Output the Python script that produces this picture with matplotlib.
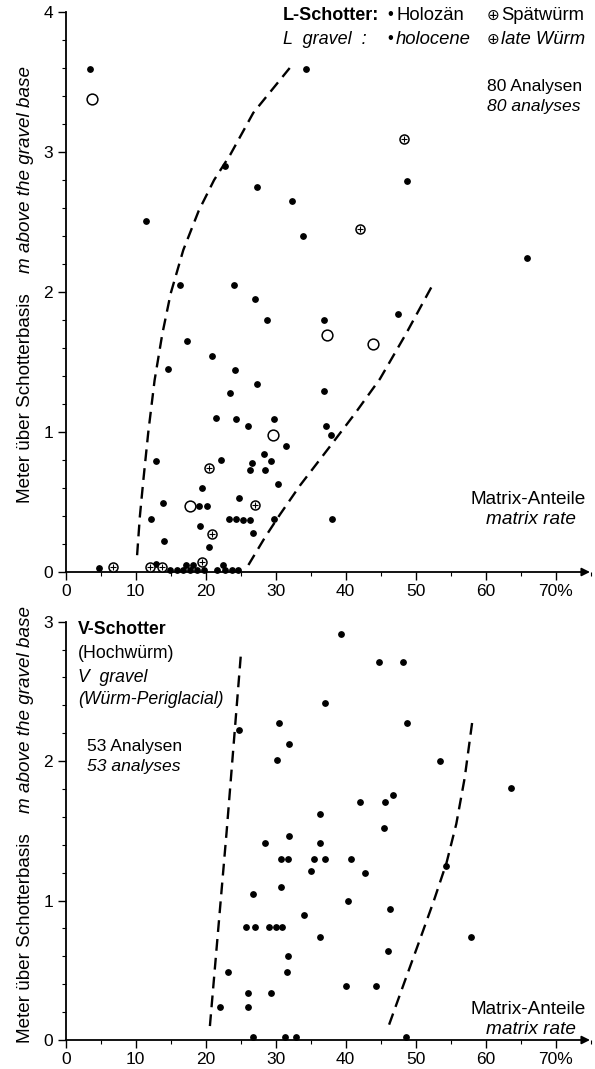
import numpy as np
import matplotlib.pyplot as plt
from matplotlib.ticker import MultipleLocator

plt.rcParams['font.family'] = ['Liberation Sans', 'DejaVu Sans']
plt.rcParams['font.size'] = 12

W, H = 595, 1069

# --- L-Schotter (top panel) ---
# Holozän (filled dots)
holo_x = [3.4, 11.4, 22.8, 27.4, 32.4, 16.3, 24.1, 27.1, 34.3, 48.7, 33.9, 65.9,
          28.7, 17.3, 20.9, 14.6, 24.2, 27.4, 23.5, 21.4, 24.4, 29.8, 26.0, 31.5,
          28.3, 12.9, 22.2, 26.6, 29.3, 26.4, 28.5, 19.4, 30.4, 13.9, 19.1, 20.2,
          24.7, 12.2, 23.3, 24.3, 25.3, 26.3, 29.8, 19.2, 26.7, 14.1, 20.4, 4.8,
          12.9, 17.2, 18.2, 22.5, 14.9, 15.9, 16.7, 17.8, 18.7, 19.8, 21.6, 22.7,
          23.7, 24.6, 36.9, 47.5, 36.9, 37.2, 37.9, 38.0]
holo_y = [3.59, 2.51, 2.90, 2.75, 2.65, 2.05, 2.05, 1.95, 3.59, 2.79, 2.40, 2.24,
          1.80, 1.65, 1.54, 1.45, 1.44, 1.34, 1.28, 1.10, 1.09, 1.09, 1.04, 0.90,
          0.84, 0.79, 0.80, 0.78, 0.79, 0.73, 0.73, 0.60, 0.63, 0.49, 0.47, 0.47,
          0.53, 0.38, 0.38, 0.38, 0.37, 0.37, 0.38, 0.33, 0.28, 0.22, 0.18, 0.03,
          0.06, 0.05, 0.05, 0.05, 0.015, 0.015, 0.015, 0.015, 0.015, 0.015, 0.015, 0.015,
          0.015, 0.015, 1.80, 1.84, 1.29, 1.04, 0.98, 0.38]
# plain open circles
open_x = [3.8, 29.6, 17.7, 37.4, 43.9]
open_y = [3.38, 0.98, 0.47, 1.69, 1.63]
# Spätwürm (circle with cross)
late_x = [48.3, 42.0, 27.1, 20.9, 20.5, 19.5, 6.7, 12.0, 13.8]
late_y = [3.09, 2.45, 0.48, 0.27, 0.74, 0.07, 0.035, 0.035, 0.035]

# envelope lines
l_left_x = [10.2, 10.6, 11.1, 11.8, 12.7, 13.8, 15.0, 16.8, 19.0, 21.2, 23.5, 26.8, 32.0]
l_left_y = [0.12, 0.40, 0.66, 1.00, 1.37, 1.70, 1.99, 2.30, 2.58, 2.80, 2.98, 3.28, 3.60]
l_right_x = [26.1, 28.5, 30.6, 33.5, 37.8, 41.3, 44.9, 48.6, 52.3]
l_right_y = [0.05, 0.25, 0.41, 0.62, 0.90, 1.13, 1.38, 1.70, 2.04]

# --- V-Schotter (bottom panel) ---
v_x = [24.7, 30.5, 31.9, 30.2, 28.5, 31.9, 39.3, 44.7, 48.2, 37.0, 48.8, 53.5,
       63.6, 42.0, 45.6, 46.8, 36.3, 36.4, 45.5, 30.7, 31.7, 30.7, 26.8, 25.7,
       27.0, 29.1, 30.0, 30.9, 31.7, 31.6, 23.2, 26.1, 29.4, 22.0, 26.1, 26.8,
       31.3, 32.9, 35.5, 37.1, 40.8, 35.0, 42.8, 40.4, 46.4, 54.4, 34.1, 36.4,
       57.9, 46.1, 40.0, 44.3, 48.6]
v_y = [2.22, 2.27, 2.12, 2.01, 1.41, 1.46, 2.91, 2.71, 2.71, 2.42, 2.27, 2.00,
       1.81, 1.71, 1.71, 1.76, 1.62, 1.41, 1.52, 1.30, 1.30, 1.10, 1.05, 0.81,
       0.81, 0.81, 0.81, 0.81, 0.60, 0.49, 0.49, 0.34, 0.34, 0.24, 0.24, 0.02,
       0.02, 0.02, 1.30, 1.30, 1.30, 1.21, 1.20, 1.00, 0.94, 1.25, 0.90, 0.74,
       0.74, 0.64, 0.39, 0.39, 0.02]
v_left_x = [20.6, 23.0, 25.0]
v_left_y = [0.10, 1.50, 2.75]
v_right_x = [46.2, 48.5, 50.6, 52.6, 54.4, 55.8, 57.0, 58.1]
v_right_y = [0.11, 0.43, 0.72, 1.00, 1.27, 1.55, 1.88, 2.29]

x_ticks = [0, 10, 20, 30, 40, 50, 60, 70]
x_labels = ['0', '10', '20', '30', '40', '50', '60', '70%']


def px(x, y):
    return x / W, 1 - y / H


def setup(ax, ymax):
    ax.set_xlim(0, 75)
    ax.set_ylim(0, ymax)
    for s in ['top', 'right', 'bottom']:
        ax.spines[s].set_visible(False)
    ax.spines['left'].set_linewidth(1.3)
    ax.set_xticks(x_ticks)
    ax.set_xticklabels(x_labels)
    ax.xaxis.set_minor_locator(MultipleLocator(5))
    ax.set_yticks(range(ymax + 1))
    ax.yaxis.set_minor_locator(MultipleLocator(0.2))
    ax.tick_params(which='major', direction='out', length=6, width=1, pad=3,
                   labelsize=12.5)
    ax.tick_params(which='minor', direction='out', length=3, width=0.8)
    ax.annotate('', xy=(74.9, 0), xytext=(0, 0), xycoords='data',
                arrowprops=dict(arrowstyle='-|>', lw=1.3, color='black',
                                mutation_scale=12, shrinkA=0, shrinkB=0),
                annotation_clip=False)


fig = plt.figure(figsize=(W / 100, H / 100), dpi=100)

# top panel
ax1 = fig.add_axes([65.7 / W, (H - 572) / H, 525 / W, 560 / H])
setup(ax1, 4)
ax1.plot(l_left_x, l_left_y, color='black', lw=1.7, ls=(0, (5, 3)))
ax1.plot(l_right_x, l_right_y, color='black', lw=1.7, ls=(0, (5, 3)))
ax1.scatter(holo_x, holo_y, s=15, color='black', zorder=3, clip_on=False)
ax1.scatter(open_x, open_y, s=60, facecolor='white', edgecolor='black',
            lw=1.1, zorder=4, clip_on=False)
ax1.scatter(late_x, late_y, s=42, facecolor='white', edgecolor='black',
            lw=1.1, zorder=4, clip_on=False)
ax1.scatter(late_x, late_y, s=14, marker='+', color='black', lw=0.8,
            zorder=5, clip_on=False)

# bottom panel
ax2 = fig.add_axes([65.7 / W, (H - 1040) / H, 525 / W, 418.3 / H])
setup(ax2, 3)
ax2.plot(v_left_x, v_left_y, color='black', lw=1.7, ls=(0, (5, 3)))
ax2.plot(v_right_x, v_right_y, color='black', lw=1.7, ls=(0, (5, 3)))
ax2.scatter(v_x, v_y, s=15, color='black', zorder=3, clip_on=False)

# y labels
for y0, y1 in [(503, 273), (1043, 813)]:
    fig.text(*px(25, y0), 'Meter über Schotterbasis', rotation=90,
             rotation_mode='anchor', ha='left', va='center', fontsize=13.6)
    fig.text(*px(25, y1), 'm above the gravel base', rotation=90,
             rotation_mode='anchor', ha='left', va='center', fontsize=13.6,
             style='italic')

# x labels
for y0 in [500, 1010]:
    fig.text(*px(586, y0), 'Matrix-Anteile', ha='right', va='center', fontsize=13.7)
    fig.text(*px(576, y0 + 19), 'matrix rate', ha='right', va='center',
             fontsize=13.7, style='italic')

# legend top
fig.text(*px(283, 15), 'L-Schotter:', ha='left', va='center', fontsize=13, weight='bold')
fig.text(*px(283, 39), 'L  gravel  :', ha='left', va='center', fontsize=13, style='italic')
for y0, word, word2, st in [(15, 'Holozän', 'Spätwürm', 'normal'),
                            (39, 'holocene', 'late Würm', 'italic')]:
    fig.text(*px(390, y0), '•', ha='center', va='center', fontsize=12)
    fig.text(*px(396, y0), word, ha='left', va='center', fontsize=13.3, style=st)
    fig.text(*px(493, y0), '⊕', ha='center', va='center', fontsize=11,
             family='DejaVu Sans')
    fig.text(*px(501, y0), word2, ha='left', va='center', fontsize=13.3, style=st)

fig.text(*px(487, 86), '80 Analysen', ha='left', va='center', fontsize=12.6)
fig.text(*px(487, 106), '80 analyses', ha='left', va='center', fontsize=12.6, style='italic')

# bottom annotation
fig.text(*px(78, 629), 'V-Schotter', ha='left', va='center', fontsize=12.7, weight='bold')
fig.text(*px(78, 653), '(Hochwürm)', ha='left', va='center', fontsize=12.7)
fig.text(*px(78, 678), 'V  gravel', ha='left', va='center', fontsize=12.7, style='italic')
fig.text(*px(78, 700), '(Würm-Periglacial)', ha='left', va='center', fontsize=12.7, style='italic')
fig.text(*px(87, 746), '53 Analysen', ha='left', va='center', fontsize=12.6)
fig.text(*px(87, 767), '53 analyses', ha='left', va='center', fontsize=12.6, style='italic')

fig.savefig('out.png', dpi=100)
